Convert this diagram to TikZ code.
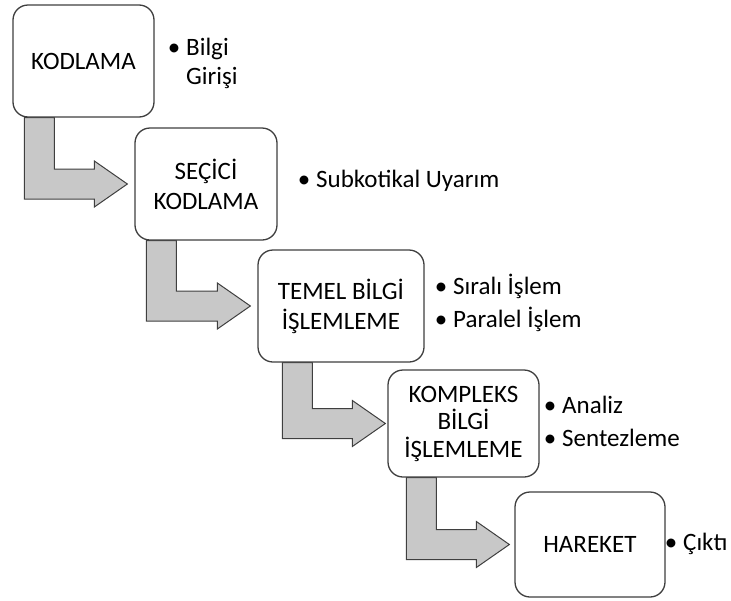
\documentclass[tikz,border=0pt]{standalone}
\usepackage{fontspec}
\setmainfont{Carlito}
\usetikzlibrary{calc}
\definecolor{edge}{HTML}{3F3F3F}
\definecolor{flowfill}{HTML}{C8C8C8}
\pgfdeclarelayer{behind}
\pgfsetlayers{behind,main}
% bent block arrow: from, to, shaft offset from the left corner, gap before target
\newcommand\stagearrow[4]{%
  \filldraw[flow] let \p1=($(#1.south west)+(#3,0)$), \p2=($(#2.west)+(-#4,0)$) in
    (\x1,\y1) -- (\x1+30pt,\y1) -- (\x1+30pt,\y2+15pt) -- (\x2-33pt,\y2+15pt)
    -- (\x2-33pt,\y2+23pt) -- (\x2,\y2) -- (\x2-33pt,\y2-23pt)
    -- (\x2-33pt,\y2-15pt) -- (\x1,\y2-15pt) -- cycle;}
\newcommand\bulletmark{\llap{\textbullet\hspace{6pt}}}
\begin{document}
\begin{tikzpicture}[x=1pt,y=-1pt,
  stage/.style={draw=edge, line width=1.3pt, fill=white, rounded corners=15pt,
    align=center, inner sep=0pt, font=\fontsize{25}{30}\selectfont},
  flow/.style={draw=edge, line width=1pt, fill=flowfill, line join=miter},
  item/.style={anchor=base west, inner sep=0pt, font=\fontsize{25}{30}\selectfont}]
\useasboundingbox (0,0) rectangle (731,600);

% stages
\node[stage, minimum width=141pt, minimum height=112pt] (b1) at (83.5,61) {KODLAMA};
\node[stage, minimum width=142pt, minimum height=112pt] (b2) at (206,184) {SEÇİCİ\\KODLAMA};
\node[stage, minimum width=166pt, minimum height=112pt] (b3) at (341,306) {TEMEL BİLGİ\\İŞLEMLEME};
\node[stage, minimum width=151pt, minimum height=107pt, font=\fontsize{25}{27.5}\selectfont] (b4) at (463.5,423.5) {KOMPLEKS\\BİLGİ\\İŞLEMLEME};
\node[stage, minimum width=150pt, minimum height=105pt] (b5) at (590,544.5) {HAREKET};

% arrows between the stages
\begin{pgfonlayer}{behind}
  \stagearrow{b1}{b2}{12}{7}
  \stagearrow{b2}{b3}{12}{7}
  \stagearrow{b3}{b4}{25}{2}
  \stagearrow{b4}{b5}{19}{5}
\end{pgfonlayer}

% notes beside each stage
\node[item] (n1a) at (186,55) {\bulletmark Bilgi};
\node[item] (n1b) at (186,84) {Girişi};
\node[item] (n2) at (316,187) {\bulletmark Subkotikal Uyarım};
\node[item] (n3a) at (453,294) {\bulletmark Sıralı İşlem};
\node[item] (n3b) at (453,327) {\bulletmark Paralel İşlem};
\node[item] (n4a) at (562,413) {\bulletmark Analiz};
\node[item] (n4b) at (562,446) {\bulletmark Sentezleme};
\node[item] (n5) at (683,550) {\bulletmark Çıktı};
\end{tikzpicture}
\end{document}
